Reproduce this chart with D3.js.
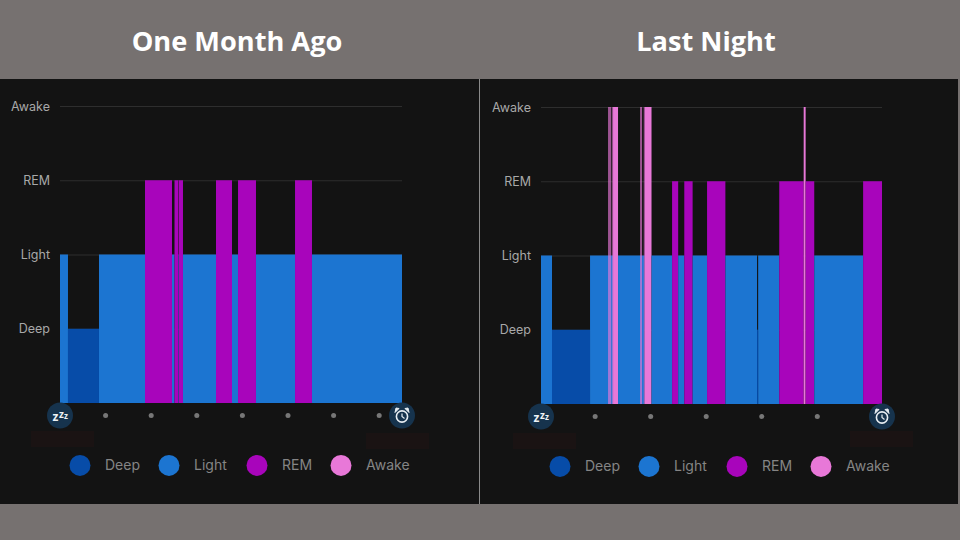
<!DOCTYPE html>
<meta charset="utf-8">
<title>Sleep stages</title>
<style>
    html, body { margin: 0; background: #767170; }
    svg { display: block; }
    .titulo { font: bold 27.2px "Open Sans", sans-serif; fill: #fff; text-anchor: middle; }
    .tick text { font: 12.5px Inter, sans-serif; fill: #a8a8a8; }
    .tick line { stroke: #2e2e2e; }
    .legenda { font: 14px Inter, sans-serif; fill: #858585; }
</style>
<svg width="960" height="540"></svg>
<script src="https://d3js.org/d3.v7.min.js"></script>
<script>
    // stages in order from the bottom of the chart
    var stages = ["Deep", "Light", "REM", "Awake"];
    var stageColors = ["#074ca8", "#1c75d1", "#a805bb", "#e878d8"];

    // one segment per stage change, end times in hours after falling asleep
    var monthStages = ["Light", "Deep", "Light", "REM", "Light", "REM", "Light", "REM", "Light", "REM", "Light", "REM", "Light", "REM", "Light"];
    var monthEnds = [0.175, 0.855, 1.864, 2.456, 2.511, 2.595, 2.605, 2.697, 3.421, 3.772, 3.904, 4.298, 5.154, 5.526, 7.5];

    var nightStages = ["Light", "Deep", "Light", "Awake", "Light", "Awake", "Light", "REM", "Light", "REM", "Light", "REM", "Light", "Deep", "Light", "REM", "Awake", "REM", "Light", "REM"];
    var nightEnds = [0.198, 0.883, 1.297, 1.387, 1.865, 1.99, 2.36, 2.47, 2.58, 2.73, 2.99, 3.32, 3.89, 3.91, 4.29, 4.73, 4.765, 4.92, 5.8, 6.14];

    // very short wake-ups, they blur with what is under them
    var nightBriefStarts = [1.207, 1.28, 1.784, 1.85];
    var nightBriefEnds = [1.265, 1.297, 1.82, 1.865];

    var monthHours = [1, 2, 3, 4, 5, 6, 7];
    var nightHours = [0.975, 1.975, 2.975, 3.975, 4.975];

    var svg = d3.select("svg");

    svg.append("rect").attr("x", 0).attr("y", 79).attr("width", 958).attr("height", 425).attr("fill", "#131313");
    svg.append("line").attr("x1", 479.5).attr("x2", 479.5).attr("y1", 79).attr("y2", 504).attr("stroke", "#8a8a8a");

    function alarm(g, cx, cy) {
        g.append("circle").attr("cx", cx).attr("cy", cy + 1).attr("r", 5.6).attr("fill", "none").attr("stroke", "#e8eef3").attr("stroke-width", 1.6);
        g.append("path").attr("d", "M" + cx + "," + (cy - 2) + "V" + (cy + 1) + "L" + (cx + 2.5) + "," + (cy + 3))
            .attr("fill", "none").attr("stroke", "#e8eef3").attr("stroke-width", 1.2);
        g.append("path").attr("d", "M" + (cx - 7) + "," + (cy - 3) + "L" + (cx - 3) + "," + (cy - 7) + "L" + (cx - 6) + "," + (cy - 7.5) + "Z").attr("fill", "#e8eef3").attr("stroke", "#e8eef3");
        g.append("path").attr("d", "M" + (cx + 7) + "," + (cy - 3) + "L" + (cx + 3) + "," + (cy - 7) + "L" + (cx + 6) + "," + (cy - 7.5) + "Z").attr("fill", "#e8eef3").attr("stroke", "#e8eef3");
    }

    function painel(cfg) {
        var g = svg.append("g");

        g.append("text").attr("class", "titulo").attr("x", cfg.titleX).attr("y", 51).text(cfg.title);

        var x = d3.scaleLinear().domain([0, cfg.ends[cfg.ends.length - 1]]).range([cfg.left, cfg.right]);
        var y = d3.scaleLinear().domain([0, stages.length]).range([cfg.base, cfg.base - 297]);
        var level = function (s) { return stages.indexOf(s) + 1; };
        var color = d3.scaleOrdinal().domain(stages).range(stageColors);

        var axis = d3.axisLeft(y)
            .tickValues(stages.map(level))
            .tickFormat(function (d) { return stages[d - 1]; })
            .tickSize(-(cfg.right - cfg.left))
            .tickPadding(10);
        g.append("g").attr("transform", "translate(" + cfg.left + ",0)").call(axis)
            .call(function (a) { a.select(".domain").remove(); });

        g.selectAll(".seg")
            .data(cfg.stages)
            .enter().append("rect")
            .attr("class", "seg")
            .attr("x", function (d, i) { return x(i ? cfg.ends[i - 1] : 0); })
            .attr("width", function (d, i) { return x(cfg.ends[i]) - x(i ? cfg.ends[i - 1] : 0); })
            .attr("y", function (d) { return y(level(d)); })
            .attr("height", function (d) { return cfg.base - y(level(d)); })
            .attr("fill", function (d) { return color(d); });

        g.selectAll(".breve")
            .data(cfg.briefStarts)
            .enter().append("rect")
            .attr("class", "breve")
            .attr("x", function (d) { return x(d); })
            .attr("width", function (d, i) { return x(cfg.briefEnds[i]) - x(d); })
            .attr("y", y(level("Awake")))
            .attr("height", cfg.base - y(level("Awake")))
            .attr("fill", color("Awake"))
            .attr("fill-opacity", 0.65);

        var cy = cfg.base + 12.5;

        g.selectAll(".hora")
            .data(cfg.hours)
            .enter().append("circle")
            .attr("class", "hora")
            .attr("cx", function (d) { return x(d); })
            .attr("cy", cy)
            .attr("r", 2.5)
            .attr("fill", "#777");

        // start and wake-up badges
        [cfg.left, cfg.right].forEach(function (cx) {
            g.append("circle").attr("cx", cx).attr("cy", cy).attr("r", 13).attr("fill", "#16334d");
        });
        g.append("text").attr("x", cfg.left - 7.5).attr("y", cy + 5.5).attr("font-family", "Open Sans").attr("font-weight", "bold").attr("font-size", 12).attr("fill", "#eef2f5").text("z");
        g.append("text").attr("x", cfg.left - 1).attr("y", cy + 2).attr("font-family", "Open Sans").attr("font-weight", "bold").attr("font-size", 10).attr("fill", "#eef2f5").text("z");
        g.append("text").attr("x", cfg.left + 4).attr("y", cy + 3.5).attr("font-family", "Open Sans").attr("font-weight", "bold").attr("font-size", 8).attr("fill", "#eef2f5").text("z");
        alarm(g, cfg.right, cy);

        // blanked out times below the badges
        cfg.blanks.forEach(function (b) {
            g.append("rect").attr("x", b[0]).attr("y", b[1]).attr("width", 63).attr("height", 16).attr("fill", "#1a1313");
        });

        var legendX = [0, 89, 177, 261];
        var item = g.selectAll(".item")
            .data(stages)
            .enter().append("g")
            .attr("class", "item")
            .attr("transform", function (d, i) { return "translate(" + (cfg.legend + legendX[i]) + "," + (cfg.base + 62.4) + ")"; });
        item.append("circle").attr("r", 10.5).attr("fill", function (d) { return color(d); });
        item.append("text").attr("class", "legenda").attr("x", 25).attr("y", 5).text(function (d) { return d; });
    }

    painel({
        title: "One Month Ago", titleX: 237, left: 60, right: 402, base: 403, legend: 80,
        stages: monthStages, ends: monthEnds, briefStarts: [], briefEnds: [], hours: monthHours,
        blanks: [[31, 431], [366, 433]]
    });
    painel({
        title: "Last Night", titleX: 706, left: 541, right: 882, base: 404, legend: 560,
        stages: nightStages, ends: nightEnds, briefStarts: nightBriefStarts, briefEnds: nightBriefEnds, hours: nightHours,
        blanks: [[513, 433], [850, 431]]
    });
</script>
